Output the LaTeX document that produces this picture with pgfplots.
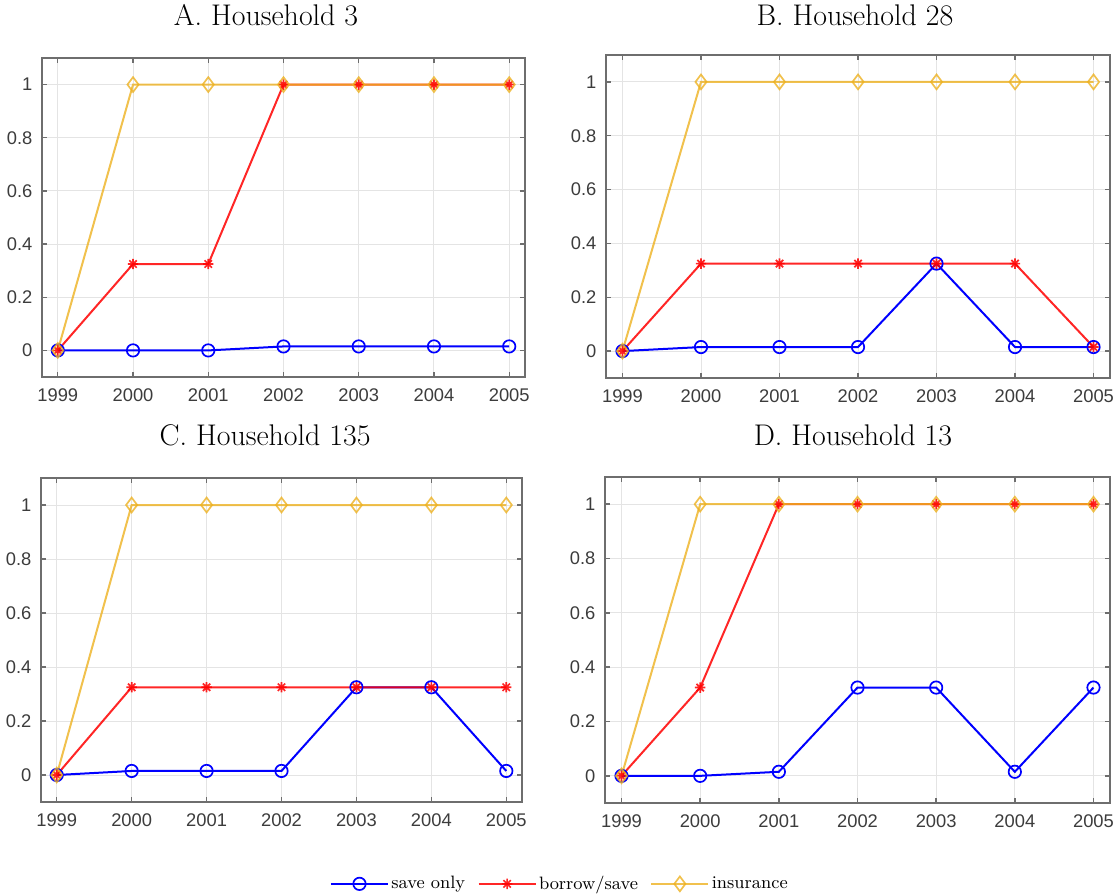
\documentclass[border=0pt]{standalone}
\usepackage{fontspec}
\usepackage{pgfplots}
\pgfplotsset{compat=1.18}
\newfontfamily\ticksf{Liberation Sans}

\definecolor{saveblue}{RGB}{0,0,255}
\definecolor{borrowred}{RGB}{255,0,0}
\definecolor{insyellow}{RGB}{237,177,32}
\definecolor{axisgray}{RGB}{110,110,110}
\definecolor{gridgray}{RGB}{228,228,228}
\definecolor{tickgray}{RGB}{60,60,60}

% eight-ray star, as used for the borrow/save series
\pgfdeclareplotmark{eightstar}{%
  \pgfpathmoveto{\pgfqpoint{-\pgfplotmarksize}{0pt}}%
  \pgfpathlineto{\pgfqpoint{\pgfplotmarksize}{0pt}}%
  \pgfpathmoveto{\pgfqpoint{0pt}{-\pgfplotmarksize}}%
  \pgfpathlineto{\pgfqpoint{0pt}{\pgfplotmarksize}}%
  \pgfpathmoveto{\pgfqpoint{-0.7071\pgfplotmarksize}{-0.7071\pgfplotmarksize}}%
  \pgfpathlineto{\pgfqpoint{0.7071\pgfplotmarksize}{0.7071\pgfplotmarksize}}%
  \pgfpathmoveto{\pgfqpoint{-0.7071\pgfplotmarksize}{0.7071\pgfplotmarksize}}%
  \pgfpathlineto{\pgfqpoint{0.7071\pgfplotmarksize}{-0.7071\pgfplotmarksize}}%
  \pgfusepathqstroke}

\pgfplotsset{
  panel/.style={
    scale only axis,
    anchor=south west,
    xmin=1998.79, xmax=2005.21,
    ymin=-0.1, ymax=1.1,
    xtick={1999,2000,2001,2002,2003,2004,2005},
    ytick={0,0.2,0.4,0.6,0.8,1},
    scaled ticks=false,
    /pgf/number format/1000 sep={},
    /pgf/number format/assume math mode=true,
    tick label style={font=\ticksf\fontsize{9.2}{11}\selectfont, text=tickgray},
    xticklabel style={yshift=-2.2bp},
    yticklabel style={xshift=-1.3bp},
    tick pos=both, tick align=inside,
    major tick length=2.5bp,
    every tick/.style={axisgray, line width=0.7bp},
    axis line style={axisgray, line width=0.8bp},
    grid=major,
    major grid style={gridgray, line width=0.5bp},
    title style={font=\fontsize{15}{18}\selectfont, anchor=base},
    legend image code/.code={%
      \draw[mark repeat=2,mark phase=2,#1]
        plot coordinates {(0bp,0bp) (14.25bp,0bp) (28.5bp,0bp)};},
  },
  saveonly/.style={saveblue, line width=1bp, mark=o, mark size=3.1bp,
    mark options={line width=0.85bp}},
  borrowsave/.style={borrowred, line width=1bp, mark=eightstar, mark size=2.6bp,
    mark options={line width=0.85bp}, opacity=0.85},
  insurance/.style={insyellow, line width=1bp, mark=diamond, mark size=3.7bp,
    mark options={line width=0.85bp}, opacity=0.8},
}

\begin{document}
\begin{tikzpicture}
\useasboundingbox (0,0) rectangle (557.5bp,-447.5bp);

% A. Household 3
\begin{axis}[panel, at={(21bp,-188.5bp)}, width=241.5bp, height=159.5bp,
  title={A. Household 3}, title style={at={(0.464,1)}, yshift=10.5bp}]
\addplot[saveonly] coordinates {(1999,0) (2000,0) (2001,0) (2002,0.015) (2003,0.015) (2004,0.015) (2005,0.015)};
\addplot[borrowsave] coordinates {(1999,0) (2000,0.325) (2001,0.325) (2002,1) (2003,1) (2004,1) (2005,1)};
\addplot[insurance] coordinates {(1999,0) (2000,1) (2001,1) (2002,1) (2003,1) (2004,1) (2005,1)};
\end{axis}

% B. Household 28
\begin{axis}[panel, at={(303bp,-189bp)}, width=252bp, height=161.5bp,
  title={B. Household 28}, title style={at={(0.494,1)}, yshift=9bp}]
\addplot[saveonly] coordinates {(1999,0) (2000,0.015) (2001,0.015) (2002,0.015) (2003,0.325) (2004,0.015) (2005,0.015)};
\addplot[borrowsave] coordinates {(1999,0) (2000,0.325) (2001,0.325) (2002,0.325) (2003,0.325) (2004,0.325) (2005,0.015)};
\addplot[insurance] coordinates {(1999,0) (2000,1) (2001,1) (2002,1) (2003,1) (2004,1) (2005,1)};
\end{axis}

% C. Household 135
\begin{axis}[panel, at={(20.5bp,-401bp)}, width=240.5bp, height=162bp,
  title={C. Household 135}, title style={at={(0.466,1)}, yshift=10.5bp}]
\addplot[saveonly] coordinates {(1999,0) (2000,0.015) (2001,0.015) (2002,0.015) (2003,0.325) (2004,0.325) (2005,0.015)};
\addplot[borrowsave] coordinates {(1999,0) (2000,0.325) (2001,0.325) (2002,0.325) (2003,0.325) (2004,0.325) (2005,0.325)};
\addplot[insurance] coordinates {(1999,0) (2000,1) (2001,1) (2002,1) (2003,1) (2004,1) (2005,1)};
\end{axis}

% D. Household 13, carrying the shared legend
\begin{axis}[panel, at={(302.5bp,-401.5bp)}, width=252.5bp, height=163bp,
  title={D. Household 13}, title style={at={(0.491,1)}, yshift=10bp},
  legend columns=3,
  legend style={at={(-0.089,-0.248)}, anchor=center, draw=none, fill=none,
    font=\fontsize{9}{11}\selectfont,
    nodes={inner sep=1.2bp},
    /tikz/every even column/.append style={column sep=5bp}},
  legend cell align=left]
\addplot[saveonly] coordinates {(1999,0) (2000,0) (2001,0.015) (2002,0.325) (2003,0.325) (2004,0.015) (2005,0.325)};
\addplot[borrowsave] coordinates {(1999,0) (2000,0.325) (2001,1) (2002,1) (2003,1) (2004,1) (2005,1)};
\addplot[insurance] coordinates {(1999,0) (2000,1) (2001,1) (2002,1) (2003,1) (2004,1) (2005,1)};
\legend{save only, borrow/save, insurance}
\end{axis}
\end{tikzpicture}
\end{document}
